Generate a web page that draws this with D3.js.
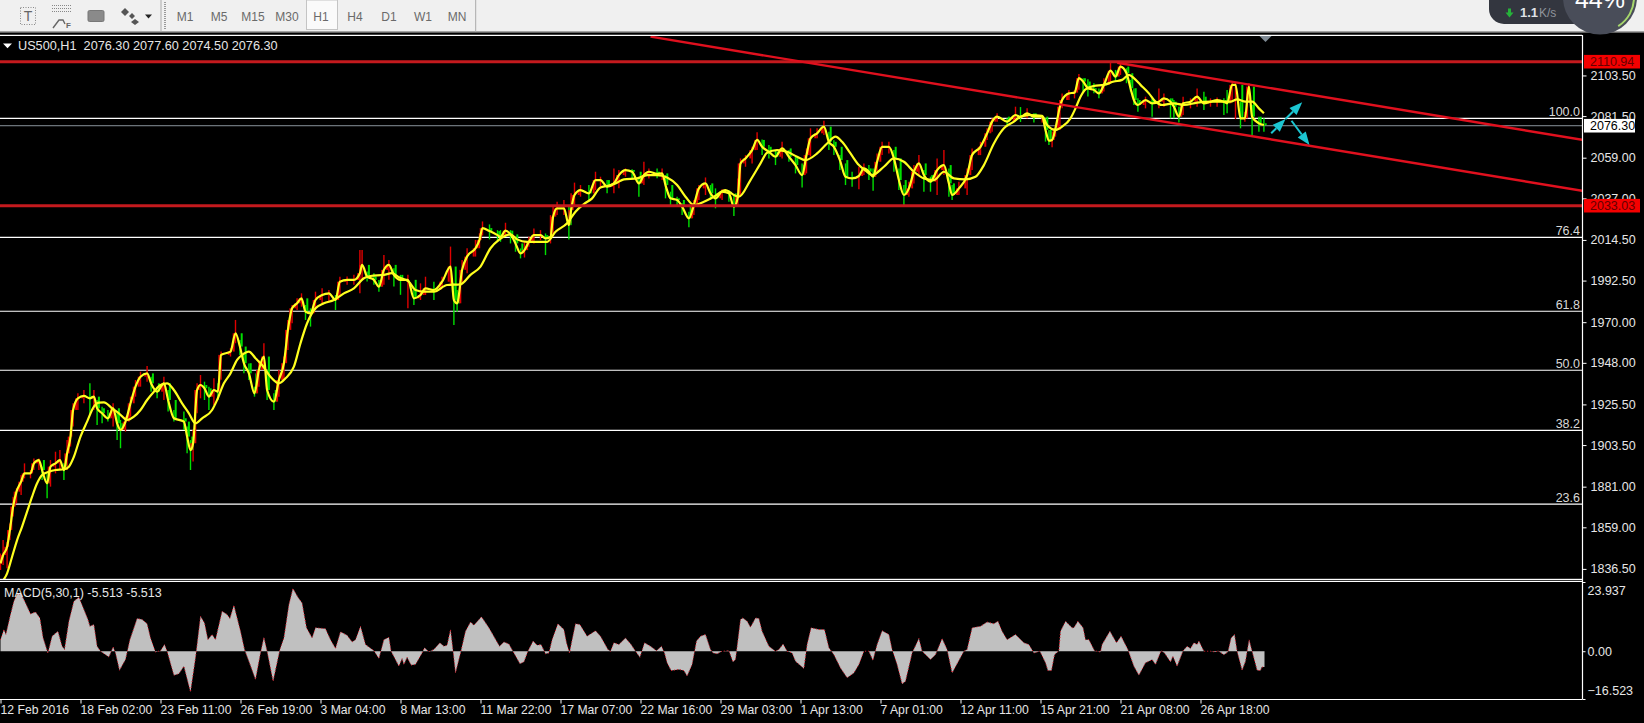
<!DOCTYPE html>
<html><head><meta charset="utf-8">
<script src="https://cdn.jsdelivr.net/npm/d3@7"></script>
<style>
html,body{margin:0;padding:0;background:#000;overflow:hidden}
svg{display:block}
text{font-family:"Liberation Sans",Arial,sans-serif}
</style></head><body><svg id="c" width="1644" height="723"></svg>
<script>
// [bar, fast MA price, wick above it, wick below it]
const fastRows=[[0,1839.5,5.4,3.6],[1.3,1844,8.1,5.4],[3.3,1848.5,2.7,11.7],[4.7,1857.5,3.6,5.4],[6.3,1870.2,5.4,5.4],[8,1878.3,1.8,6.3],[10.3,1883.7,3.6,7.2],[12,1888.2,5.4,2.7],[15,1888.2,1.8,2.7],[16.7,1893.6,2.7,3.6],[19.2,1895.4,.9,5.4],[20.8,1890,1.8,5.4],[23.3,1882.8,5.4,8.1],[25,1891.8,3.6,10.8],[27.5,1893.6,6.3,5.4],[29.7,1895.4,5.4,5.4],[31.7,1890,3.6,5.4],[33.3,1899,7.2,9],[35,1908.1,3.6,5.4],[36.3,1922.5,3.6,9],[38.7,1928.8,2.7,6.3],[41.7,1930.1,3.2,4],[44.7,1928.8,8.1,9],[46.7,1929.7,3.6,7.2],[48.3,1923.4,4.5,9],[50.8,1920.7,3.6,5.4],[53.7,1918,4.5,1.8],[56.3,1923.4,2.7,9.9],[58.3,1915.3,5.4,9],[60,1911.7,5.4,9.9],[62.5,1916.2,2.7,5.4],[65,1926.1,3.6,7.2],[67.5,1935.1,3.6,5.4],[70,1940.5,2.7,5.4],[73.3,1942.3,4,4.5],[75.3,1936.9,3.6,4.5],[78.3,1932.4,2.7,3.6],[81.7,1936.9,3.6,9],[83.8,1927.9,5.4,6.3],[86.7,1918,4.5,1.8],[91.7,1916.2,5.4,4.5],[93.3,1908.1,5.4,9],[95,1900.8,5.4,10.8],[96.3,1904.5,7.2,9.9],[98.3,1933.3,3.6,12.6],[100,1936,5.4,7.2],[102,1934.2,3.6,6.3],[104.2,1929.7,5.4,7.2],[106.7,1933.3,6.3,8.1],[108.7,1932.4,4.5,4.5],[110.3,1952.3,1.8,13.5],[115,1954.1,1.8,2.7],[117.5,1964,7.2,5.4],[119.7,1956.8,3.6,4.5],[121.7,1947.8,4.5,5.4],[124.2,1942.3,5.4,3.6],[127,1931.5,3.6,1.8],[129.2,1944.1,5.4,9],[131.7,1951.4,7.2,6.3],[133.3,1933.3,10.8,5.4],[136.7,1927,4.5,4.5],[139.2,1938.7,5.4,9],[141.7,1947.8,3.6,9],[143.7,1965.8,5.4,10.8],[145.8,1977.5,1.8,8.1],[148.3,1980.2,2.7,3.6],[150.5,1982.9,2.7,4.5],[152.5,1975.7,3.6,4.5],[155,1974.8,2.7,7.2],[157.5,1982,4.5,5.4],[160.8,1984.7,3.6,4.5],[164.2,1985.6,1.8,4.5],[167.5,1982,2.7,5.4],[169.7,1991.9,2.7,7.2],[173.3,1992.9,1.8,2.7],[176.7,1992.9,2.7,2.7],[179.7,1996.5,12.6,10.8],[180.8,2001,8.1,8.1],[183.3,1994.7,2.7,2.7],[186.7,1992.9,3.6,2.7],[189.2,1989.2,3.6,2.7],[191.7,1998.3,8.1,8.1],[194.2,2001,2.7,8.1],[196.7,1995.6,3.6,6.3],[200,1992.9,2.7,8.1],[203.7,1992.9,2.7,15.3],[206.7,1982.9,4.5,3.6],[210,1984.7,6.3,2.7],[212.5,1988.3,6.3,3.6],[216.7,1987.4,4.5,5.4],[220.8,1991.9,2.7,3.6],[225,2000.1,10.8,9.9],[226.7,1982,9,13.5],[228.3,1980.2,7.2,4.5],[230.8,1998.3,5.4,7.2],[233.3,2005.5,4.5,9],[237.5,2010,4.5,4.5],[239.5,2014.5,3.6,4.5],[241,2020.9,3.6,4],[244.5,2019.3,3.6,4.5],[248.5,2017.1,2.7,3.6],
[250,2016.2,3.6,2.7],[252.5,2019.5,4.3,2.3],[255,2017.5,2.3,4.9],[257.5,2012.6,3.6,4.5],[260,2007.2,2.7,2.7],[262,2009,4.5,4],[264.2,2013.5,2.7,2.7],[266.7,2017.1,3.6,4.5],[270,2017.1,2.7,2.7],[272.5,2015.3,2.7,9],[275,2016.2,11.7,3.6],[276.3,2027.1,5.4,10.8],[278.3,2031.6,3.6,3.6],[281.7,2031.6,4.5,3.6],[284.2,2022.5,9.9,7.7],[285.3,2030.7,9,7.2],[287,2038.8,6.7,5.4],[290,2041.5,2.7,3.6],[294.2,2039.7,4.5,3.6],[297.5,2046.9,4.5,5.4],[300,2046.9,1.8,3.6],[303.3,2043.3,3.6,3.6],[306.7,2045.1,8.1,5.4],[309.2,2049.6,2.7,7.2],[312.5,2052.3,.9,3.6],[315.8,2051.4,1.3,3.6],[319.2,2045.1,3.6,7.2],[321.7,2049.6,7.2,5.4],[324.2,2051.4,1.8,3.6],[328.3,2050.2,3,2.3],[330.8,2050.5,2.7,3.6],[332.5,2044.2,5.4,7.2],[335,2037,3.6,3.6],[338.3,2036.1,1.8,2.7],[340.8,2032.5,1.8,4.5],[344.2,2026.2,3.6,4.9],[346.7,2033.4,2.7,5.4],[349.2,2042.4,1.8,6.3],[352.5,2045.1,3.2,6.3],[355,2039.7,4.5,3.6],[357.5,2037,5.4,5.4],[360.8,2040.6,1.3,4.5],[364.2,2039.7,1.8,4.5],[366.7,2032.5,6.3,5],[368.7,2037.9,9.9,4.5],[370,2055.9,2.7,17.1],[372.5,2058.6,1.8,4.5],[375.8,2063.1,1.8,7.2],[378.3,2068.6,4.1,5.4],[380.8,2064.9,4,4.5],[384.2,2062.2,3.6,3.6],[387.5,2059.5,3.6,4.5],[390.8,2064,3.6,5.4],[394.2,2059.5,3.6,2.7],[397.5,2055,4.5,4.5],[400.8,2049.6,6.3,6.7],[403,2060.4,3.6,9.9],[405,2069.5,5.4,9.9],[408.3,2072.2,2.7,2.7],[411.7,2075.8,3.2,4.5],[414.2,2067.6,5.4,4.5],[416.7,2064.9,3.6,4.5],[419.7,2057.7,2.7,5.4],[422.5,2048.7,7.2,4.5],[425.8,2047.8,3.6,4.5],[429.2,2049.1,5,7.2],[431.7,2053.2,2.7,3.6],[434.2,2051.4,3.6,4.5],[436.3,2048.7,4.5,7.6],[438.3,2056.8,4.5,6.3],[440.8,2064.9,2.7,4.5],[444.2,2064.9,2.7,3.6],[446.7,2058.6,4.5,7.2],[449.2,2046.9,6.3,5.4],[451.7,2038.8,5.4,5.9],[454.2,2042.4,3.6,4.5],[456.7,2051.4,3.6,6.3],[459.2,2055.9,4.5,6.3],[461.7,2049.6,2.7,9],[465,2046,2.7,5.4],[468.3,2052.3,6.3,13.5],[471.7,2055,8.1,5.4],[474.2,2045.1,8.1,7.2],[475.8,2038.8,5.4,2.7],[479.2,2042.4,3.6,3.6],[483.3,2049.6,3.6,10.8],[485.8,2060.4,3.6,8.1],[490,2064.9,2.7,4.5],[493.3,2072.2,2.7,3.6],[495.8,2078.5,1.8,5.4],[498.3,2081.2,1.8,2.7],[503.3,2078.5,1.8,2.7],[507.5,2082.1,4.5,2.7],[510,2081,5.4,2.7],
[513.3,2083,2.7,2.7],[516.7,2081.2,1.8,3.2],[520.8,2081.2,.9,3.2],[522.5,2074,6.3,6.3],[524.2,2068.2,5.8,2.3],[525.8,2068.6,4.5,4],[527.5,2074.9,1.8,4.5],[529.7,2086.6,3.6,12.6],[530.8,2090.2,3.6,4.5],[534.2,2093.8,1.8,3.6],[537,2094.2,1.4,3.1],[539.2,2102,2.3,6.3],[541.3,2100.2,1.8,5.4],[543.7,2096.6,4.9,4.5],[546.7,2095.7,3.6,1.8],[549.2,2093.8,2.7,2.7],[551.7,2098.4,3.6,3.6],[555,2106.1,4.3,6.8],[557.5,2102.9,3.6,2.7],[560,2108.3,2.2,4.5],[563,2104.7,2.7,5.4],[565,2096.6,4.5,1.8],[566.7,2090.2,6.3,2.7],[568.7,2087.5,3.6,3.6],[572.5,2090.2,1.8,4.5],[575.8,2088.4,2.7,7.2],[579.2,2089.3,7.2,3.6],[581.7,2091.1,2.7,4.5],[585,2089.3,1.8,9],[586.7,2086.6,3.6,6.3],[589.2,2081.2,5.4,3.2],[591.3,2088.4,3.6,6.3],[595,2089.3,1.8,3.6],[598.3,2092,4.5,5.4],[601.7,2088.4,6.3,3.6],[605,2089.3,1.8,2.7],[608.3,2090.2,1.4,3.6],[611.7,2089.3,1.8,7.2],[613.3,2088.4,7.2,5.4],[615.8,2098.4,1.3,8.1],[617.5,2098.4,.9,18.5],[620,2080.3,9,5.4],[622.2,2080.3,3.6,1.8],[624.2,2097.5,1.8,8.1],[625.8,2081.2,6.3,9.9],[629.2,2077.6,3.6,4.5],[631.7,2076.7,3.6,3.6]];

const slowRows=[[0,1828.7],[3.3,1834.1],[5.8,1843.1],[8.3,1852.1],[10.8,1859.4],[13.3,1867.5],[15.8,1875.6],[18.3,1882.8],[20.8,1887.3],[24.2,1889.1],[27.5,1890],[31.7,1890.4],[34.2,1891.8],[36.7,1897.2],[40,1908.1],[43.3,1916.2],[46.7,1924.3],[49.2,1926.5],[51.7,1926.6],[55.8,1923.4],[59.2,1920.7],[63.3,1917.1],[66.7,1918.9],[70,1922.5],[73.3,1927.9],[76.7,1932.4],[80,1936],[83.3,1936.9],[86.7,1933.3],[90.8,1926.1],[94.2,1920.7],[97.5,1915.3],[100.8,1918],[105.8,1922.5],[108.3,1927.9],[111.7,1936.9],[115,1942.3],[118.3,1949.6],[120.8,1952.3],[124.2,1954.1],[127.5,1950.5],[130.8,1946.8],[135,1940.5],[139.2,1936.9],[142.5,1939.6],[146.7,1945.9],[150,1958.6],[153.3,1969.4],[157.5,1977.5],[161.7,1980.2],[166.7,1982],[171.7,1985.6],[176.7,1988.3],[181.7,1993.8],[185,1995],[191.7,1995.6],[195.8,1996.5],[199.2,1994.3],[204.2,1991.9],[207.5,1987.4],[211.7,1986.5],[216.7,1986.5],[223.3,1990.1],[230,1990.5],[235,1995.6],[240,2000.1],[245,2010],[249.2,2014.5],
[255,2017.5],[258.3,2014.8],[263.3,2013.5],[268.3,2013.5],[273.3,2013.5],[277.5,2018.9],[283.3,2023.5],[287.5,2029.8],[291.7,2033.9],[295.8,2037],[300,2042.9],[303.3,2043.7],[307.5,2045.1],[311.7,2047.3],[318.3,2047.8],[323.3,2049.6],[328.3,2049.6],[333.3,2048.3],[338.3,2044.2],[342.5,2037.9],[346.7,2033.4],[351.7,2035.2],[356.7,2037.9],[362.5,2041.5],[366.7,2038.8],[369.2,2037.9],[375,2046.9],[380,2055.9],[383.3,2061.7],[388.3,2063.1],[393.3,2062.2],[398.3,2059.5],[402.5,2057.7],[408.3,2061.3],[413.3,2066.7],[417.5,2070.4],[420.8,2067.6],[425,2061.3],[429.2,2055],[432.5,2052],[435.8,2049.6],[441.7,2054.1],[446.7,2058.6],[451.7,2056.8],[456.7,2051.4],[461.7,2047.8],[466.7,2046.9],[471.7,2051.4],[476.7,2047.8],[482.5,2047.3],[487.5,2048.7],[491.7,2055],[496.7,2066.7],[501.7,2074.9],[506.7,2078.5],[510,2081.2],
[515,2082.1],[520.8,2081.6],[523.3,2076.7],[527.5,2074],[530.8,2075.8],[535,2080.3],[537.5,2085.7],[540,2092],[542.5,2096],[546.7,2097.8],[551.7,2098.4],[556.7,2100.2],[560.8,2101.1],[564.2,2103.8],[566.7,2102],[570,2098.4],[574.2,2093.8],[577.5,2089.3],[580.8,2087.5],[586.7,2088.4],[591.7,2087.5],[598.3,2088.8],[605,2089.3],[610.8,2089.3],[615,2089.3],[618.3,2090.6],[622.5,2089.3],[625.8,2089.3],[629.2,2085.7],[631.7,2083]];

const macdRows=[[0,4],[1.7,7.5],[2.7,5.8],[5,12.7],[6.7,17.3],[8.3,19.8],[10.3,19.8],[12.5,16.7],[15,12.9],[17.5,13.6],[19.7,11.5],[21.3,4.6],[23.7,-.6],[25.8,5.2],[28.7,6.9],[30.8,1.7],[32,.6],[34.2,10.4],[36.7,17.3],[39.2,18.7],[41.7,14.4],[43.7,11],[44.7,8.6],[46.7,9.2],[48.3,1.7],[50,0],[54.2,-2],[56.3,1.5],[57.5,-.6],[59.5,-6.6],[62.5,-2.9],[64.7,4],[68.3,11.3],[70.8,11],[73.3,9.5],[75,4.6],[77.5,-.3],[80,.2],[82,2.3],[83.3,0],[86.7,-8.3],[89.2,-7.8],[91.7,-5.2],[95,-14.1],[97.5,-2.3],[100,12.1],[102,9.8],[103.7,4],[105.8,5.8],[107.5,4],[110.8,13.8],[113.3,12.7],[114.7,11.3],[116.7,15.9],[120,6.9],[122,.6],[124.2,-3.5],[127.5,-9.8],[130,-.6],[131.7,4.8],[133.3,0],[136.3,-10.4],[139.7,.6],[141.7,4.6],[144.2,16.1],[146.2,21.7],[148.7,18.7],[150.8,16.7],[153,8.1],[155.8,4.6],[157.5,8.1],[162.5,7.8],[165,4],[167.5,.9],[170,6.7],[173.3,5.5],[175.8,3.2],[177.5,4],[180,8.6],[182.5,2.3],[186.7,.2],[189.2,-2.5],[191.7,4],[194.2,4.8],[195.3,0],[199.2,-5.2],[200.8,-2.5],[201.7,-4.6],[203.3,-2.1],[205.3,-4.8],[207.5,-4.6],[210.8,-.6],[212,1.2],[214.2,-.2],[216.7,.6],[219.7,2.9],[221.7,1.7],[223.3,2.1],[225,7.5],[226.3,0],[227.5,-7.5],[230,-.6],[232.5,6.9],[235,10.1],[236.7,9],[240.5,11.9],[244.2,8.1],[249.5,1.7],[251.7,3.2],[254.2,2.5],[256.7,-.6],[259.7,-4.3],
[261.7,-3.7],[263.7,0],[266.3,3.5],[268.3,2.1],[270.3,2.3],[272.5,-.9],[274.2,-.6],[275.8,4],[278.7,9.5],[281.7,7.5],[283,2.9],[284.5,-.6],[285.5,2.9],[287.5,9.5],[289.7,9.2],[293.3,5.2],[297.5,7.1],[300,5.2],[303.7,.6],[305,0],[306.7,2.9],[309.2,2.3],[312.5,4.6],[315.3,2.3],[317.5,0],[319.7,-2.1],[322,2.9],[325,1.7],[328,.2],[330.5,1.7],[332,-.6],[333.3,-4],[335.3,-6.7],[339.2,-6.3],[341.7,-6.7],[343.3,-8.6],[345.8,-4.6],[348,3.5],[350,5.2],[352.5,5.8],[355,.6],[356.3,-.6],[358.3,-.9],[360.8,0],[364.2,.2],[366.2,-3.7],[367.5,-2.9],[370,11],[371.2,11.5],[373.3,10.4],[375,8.3],[377.5,11.5],[379.2,11.3],[380.8,6.9],[384.2,1.7],[387.5,0],[389.2,.6],[391.3,2.5],[393.3,0],[395.8,-.6],[397.5,-3.5],[401.7,-6],[403.3,2.3],[405.3,8.1],[409.2,7.5],[412,7.5],[414.2,1.2],[416.7,-1.2],[420,-5.8],[423.3,-9.2],[426.7,-7.5],[429.2,-4.6],[431.7,0],[434.2,0],[436.2,-3.2],[438.3,2.3],[440.8,7.1],[444.2,5.8],[445.8,.6],[448.3,-4.6],[450.8,-11.3],[452.5,-10.4],[455.8,-.6],[459.2,4.4],[460.8,0],[465,-2.9],[467.5,-1.2],[470.8,4.4],[473.3,.6],[475.8,-7.5],[481.7,0],[483.3,.6],[485.8,8.1],[490,8.6],[493.3,10.1],[496.7,9.5],[498.7,10.4],[500.8,6.9],[503.3,4],[507.5,5.8],[511.7,2.9],[514.2,2.3],[516.7,-.6],[519.7,0],
[522.5,-4],[523.7,-6.7],[525.5,-6.7],[527,-1.2],[529.2,.2],[530,6.9],[532.5,10.4],[535.8,8.1],[536.7,8.1],[538.7,10.4],[541.3,8.1],[542.5,4],[544.2,4],[547,.2],[550,-.3],[550.8,2.3],[554.7,6.9],[558,2.9],[560.3,5.2],[563.7,.6],[566.7,-5.2],[569.2,-8.3],[572.5,-4],[574.2,-3.5],[575.8,-2.9],[577.5,-4.6],[580.3,.2],[582,-.6],[585,-3.7],[586.2,-1.7],[588.3,-5.2],[591.3,.2],[593.3,1.7],[595,.9],[596.7,2.9],[598.3,2.3],[599.2,3.5],[601.7,0],[605,0],[607.5,-.3],[608.7,.2],[611.7,-1.2],[613.7,-.3],[615.3,4.6],[617,5.8],[618.3,0],[620.8,-6.6],[622.5,-3.5],[624.3,4],[625.8,0],[628.3,-6.6],[630,-6.7],[630.6,-5.5],[632,-5.5]];

const timeLabels=["12 Feb 2016","18 Feb 02:00","23 Feb 11:00","26 Feb 19:00","3 Mar 04:00","8 Mar 13:00","11 Mar 22:00","17 Mar 07:00","22 Mar 16:00","29 Mar 03:00","1 Apr 13:00","7 Apr 01:00","12 Apr 11:00","15 Apr 21:00","21 Apr 08:00","26 Apr 18:00"];
const priceTicks=[2103.5,2081.5,2059,2037,2014.5,1992.5,1970,1948,1925.5,1903.5,1881,1859,1836.5];
const macdTicks=[23.937,0,-16.523];
const fibLevels=["100.0","76.4","61.8","50.0","38.2","23.6"];
const fibPrices=[2080.3,2015.9,1975.9,1944,1911.5,1871.5];
const supportResistance=[2110.94,2033.03];
const lastPrice=2076.30;
const channelUpper=[[558.4,2110.4],[791.15,2068.6]];
const channelLower=[[325,2124.5],[791.15,2041]];
const arrowPaths=[[[635.35,2072.2],[642.5,2079.9]],[[642.5,2079.9],[650.85,2089]],[[645.5,2079],[654.5,2065.9]]];
const periodNames=["M1","M5","M15","M30","H1","H4","D1","W1","MN"];
const titleText="US500,H1  2076.30 2077.60 2074.50 2076.30";
const macdTitle="MACD(5,30,1) -5.513 -5.513";

const svg=d3.select("#c");
const W=1582,font=12.5;
const x=d3.scaleLinear().domain([0,791]).range([0.5,W+0.5]);
const y=d3.scaleLinear().domain([2110.94,1836.5]).range([61.7,568.9]);
const m=d3.scaleLinear().domain([23.937,-16.523]).range([582,699]);

svg.append("rect").attr("width",1644).attr("height",723).attr("fill","#000");

// toolbar
const tb=svg.append("g");
tb.append("rect").attr("width",1644).attr("height",31).attr("fill","#f0f0f0");
tb.append("rect").attr("y",31).attr("width",1644).attr("height",1.6).attr("fill","#a3a3a3");
tb.append("rect").attr("x",20.5).attr("y",7.5).attr("width",15).attr("height",17).attr("fill","none").attr("stroke","#8a8a8a").attr("stroke-dasharray","1 1.5");
tb.append("text").attr("x",28).attr("y",21).attr("text-anchor","middle").attr("font-size",14).attr("fill","#666").text("T");
[0,1,2].forEach(i=>tb.append("line").attr("x1",52).attr("x2",71).attr("y1",5.5+i*3).attr("y2",5.5+i*3).attr("stroke","#888").attr("stroke-dasharray","1 1"));
tb.append("path").attr("d","M53 28L59 20H63L65 24").attr("fill","none").attr("stroke","#666").attr("stroke-width",1.4);
tb.append("text").attr("x",66).attr("y",28).attr("font-size",8).attr("font-weight","bold").attr("fill","#666").text("F");
tb.append("rect").attr("x",88).attr("y",10.5).attr("width",16).attr("height",11).attr("rx",1.5).attr("fill","#8a8a8a").attr("stroke","#777");
tb.append("path").attr("d","M125 8l4 4-4 4-4-4zM132 13l3 3-3 3-3-3zM135 19l4 3-4 3-4-3z").attr("fill","#555");
tb.append("path").attr("d","M145 14.5h7l-3.5 4z").attr("fill","#222");
tb.append("line").attr("x1",161).attr("x2",161).attr("y1",0).attr("y2",32).attr("stroke","#aaa");
tb.append("line").attr("x1",165).attr("x2",165).attr("y1",2).attr("y2",30).attr("stroke","#999").attr("stroke-width",2).attr("stroke-dasharray","1 1");
tb.append("line").attr("x1",475.7).attr("x2",475.7).attr("y1",0).attr("y2",32).attr("stroke","#aaa");
tb.append("rect").attr("x",306.5).attr("y",0).attr("width",31).attr("height",29.5).attr("fill","#fafafa").attr("stroke","#c4c4c4");
const periodX=d3.scalePoint().domain(periodNames).range([185,457]);
tb.selectAll("text.p").data(periodNames).join("text").attr("class","p").attr("x",d=>periodX(d)).attr("y",20.5).attr("text-anchor","middle").attr("font-size",12).attr("fill","#6a6a6a").text(d=>d);

// clip
const defs=svg.append("defs");
defs.append("clipPath").attr("id","main").append("rect").attr("x",0).attr("y",36).attr("width",W).attr("height",543);
const plot=svg.append("g").attr("clip-path","url(#main)");

// fibonacci + last price lines
plot.selectAll("line.fib").data(fibPrices).join("line").attr("class","fib").attr("x1",0).attr("x2",W).attr("y1",d=>y(d)).attr("y2",d=>y(d)).attr("stroke","#fff").attr("stroke-width",1.2);
plot.append("line").attr("x1",0).attr("x2",W).attr("y1",y(lastPrice)).attr("y2",y(lastPrice)).attr("stroke","#8a949c").attr("stroke-width",1);

const isDown=(d,i)=>i&&d[1]<fastRows[i-1][1];
const barColor=(d,i)=>isDown(d,i)?"#00e000":"#e00000";
// wicks
plot.selectAll("line.w").data(fastRows).join("line").attr("class","w")
 .attr("x1",d=>x(d[0])).attr("x2",d=>x(d[0]))
 .attr("y1",d=>y(d[1]+d[2])).attr("y2",d=>y(d[1]-d[3]))
 .attr("stroke",barColor).attr("stroke-width",1.4);
// candle bodies: from the previous reading to this one, just beside the line
plot.selectAll("line.b").data(fastRows).join("line").attr("class","b")
 .attr("x1",(d,i)=>x(d[0])+(isDown(d,i)?1.8:-1.8)).attr("x2",(d,i)=>x(d[0])+(isDown(d,i)?1.8:-1.8))
 .attr("y1",(d,i)=>y(fastRows[Math.max(i-1,0)][1])).attr("y2",d=>y(d[1]))
 .attr("stroke",barColor).attr("stroke-width",2);

// moving averages
const line=d3.line().x(d=>x(d[0])).y(d=>y(d[1])).curve(d3.curveMonotoneX);
plot.append("path").attr("d",line(slowRows)).attr("fill","none").attr("stroke","#ffff1e").attr("stroke-width",2.2);
plot.append("path").attr("d",line(fastRows)).attr("fill","none").attr("stroke","#ffff1e").attr("stroke-width",2.2);

// horizontal S/R and channels
plot.selectAll("line.sr").data(supportResistance).join("line").attr("class","sr").attr("x1",0).attr("x2",W).attr("y1",d=>y(d)).attr("y2",d=>y(d)).attr("stroke","#c41a1e").attr("stroke-width",3);
[channelUpper,channelLower].forEach(c=>plot.append("line").attr("x1",x(c[0][0])).attr("y1",y(c[0][1])).attr("x2",x(c[1][0])).attr("y2",y(c[1][1])).attr("stroke","#e0101e").attr("stroke-width",2.4));

// arrows
arrowPaths.forEach(a=>{
 const x0=x(a[0][0]),y0=y(a[0][1]),x1=x(a[1][0]),y1=y(a[1][1]),t=Math.atan2(y1-y0,x1-x0),L=13,H=5;
 const bx=x1-L*Math.cos(t),by=y1-L*Math.sin(t);
 plot.append("line").attr("x1",x0).attr("y1",y0).attr("x2",bx).attr("y2",by).attr("stroke","#1cc6d2").attr("stroke-width",2);
 plot.append("path").attr("d",`M${x1} ${y1}L${bx+H*Math.sin(t)} ${by-H*Math.cos(t)}L${bx-H*Math.sin(t)} ${by+H*Math.cos(t)}Z`).attr("fill","#1cc6d2");
});

// fib labels
plot.selectAll("text.fl").data(fibLevels).join("text").attr("class","fl").attr("x",W-2).attr("y",(d,i)=>y(fibPrices[i])-2).attr("text-anchor","end").attr("font-size",font).attr("fill","#d8d8d8").text(d=>d);

// top marker triangle
svg.append("path").attr("d",`M${x(629.5)} 36h12l-6 6z`).attr("fill","#7f8a94");

// frame
svg.append("line").attr("x1",0).attr("x2",W).attr("y1",35.3).attr("y2",35.3).attr("stroke","#fff").attr("stroke-width",1.2);
svg.append("rect").attr("x",0).attr("y",578.8).attr("width",W).attr("height",1.2).attr("fill","#fff");
svg.append("rect").attr("x",0).attr("y",580.8).attr("width",W).attr("height",1.2).attr("fill","#fff");

// title
svg.append("path").attr("d","M3 43.5h9l-4.5 4.7z").attr("fill","#fff");
svg.append("text").attr("x",18).attr("y",50).attr("font-size",12.7).attr("fill","#e6e6e6").attr("xml:space","preserve").text(titleText);

// price axis
const ya=svg.append("g").attr("transform",`translate(${W+0.5},0)`).call(d3.axisRight(y).tickValues(priceTicks).tickSize(4).tickPadding(4).tickFormat(d3.format(".2f")));
ya.select(".domain").remove();
ya.selectAll("line").attr("stroke","#fff");
ya.selectAll("text").attr("fill","#e6e6e6").attr("font-size",font).attr("font-family",'"Liberation Sans"');
svg.append("line").attr("x1",W+0.5).attr("x2",W+0.5).attr("y1",35).attr("y2",699.5).attr("stroke","#fff").attr("stroke-width",1.2);

// price boxes
const boxes=[{p:2110.94,bg:"#f40000",fg:"#660000"},{p:2033.03,bg:"#f40000",fg:"#660000"},{p:lastPrice,bg:"#fff",fg:"#000"}];
boxes.forEach(b=>{
 svg.append("rect").attr("x",1584).attr("y",y(b.p)-6.8).attr("width",b.bg==="#fff"?51:56).attr("height",13.6).attr("fill",b.bg);
 svg.append("text").attr("x",1590).attr("y",y(b.p)+4.4).attr("font-size",font).attr("fill",b.fg).text(b.p.toFixed(2));
});

// MACD
const area=d3.area().x(d=>x(d[0])).y0(m(0)).y1(d=>m(d[1])).curve(d3.curveLinear);
svg.append("path").attr("d",area(macdRows)).attr("fill","#c0c0c0");
svg.append("path").attr("d",d3.line().x(d=>x(d[0])).y(d=>m(d[1]))(macdRows)).attr("fill","none").attr("stroke","#e01a2a").attr("stroke-width",1).attr("stroke-dasharray","1 2");
svg.append("text").attr("x",4).attr("y",596.5).attr("font-size",font).attr("fill","#e6e6e6").text(macdTitle);
const ma=svg.append("g").attr("transform",`translate(${W+0.5},0)`).call(d3.axisRight(m).tickValues(macdTicks).tickSize(3).tickPadding(2).tickFormat(d=>d===0?"0.00":d3.format(".3f")(d)));
ma.select(".domain").remove();
ma.selectAll("line").attr("stroke","#fff");
ma.selectAll("text").attr("fill","#e6e6e6").attr("font-size",font).attr("font-family",'"Liberation Sans"');
ma.selectAll(".tick").filter(d=>d===macdTicks[0]).select("text").attr("dy","1em");
ma.selectAll(".tick").filter(d=>d===macdTicks[2]).select("text").attr("dy","-0.35em");

// time axis
const ticksT=timeLabels.map((_,i)=>i*40);
const xa=svg.append("g").attr("transform","translate(0,699.5)").call(d3.axisBottom(x).tickValues(ticksT).tickSize(4).tickPadding(1).tickFormat((d,i)=>timeLabels[i]));
xa.select(".domain").attr("stroke","#fff").attr("d",`M0,0H${W}`);
xa.selectAll("line").attr("stroke","#fff");
xa.selectAll("text").attr("fill","#e6e6e6").attr("font-size",12.2).attr("font-family",'"Liberation Sans"').attr("text-anchor","start").attr("dx",-0.5).attr("y",6);

// network widget overlay
const w=svg.append("g");
w.append("path").attr("d","M1489 0V9a15 15 0 0 0 15 15H1590V0Z").attr("fill","#33363f");
w.append("path").attr("d","M1508 8.5h3v4h2.5l-4 5-4-5h2.5z").attr("fill","#26b33a");
w.append("text").attr("x",1520).attr("y",17).attr("font-size",13).attr("font-weight","bold").attr("fill","#dfe2e6").text("1.1");
w.append("text").attr("x",1539).attr("y",17).attr("font-size",12).attr("fill","#8f949c").text("K/s");
w.append("circle").attr("cx",1600).attr("cy",-2.5).attr("r",37).attr("fill","#494d59");
w.append("path").attr("d",d3.arc().innerRadius(33).outerRadius(35).startAngle(Math.PI*0.5).endAngle(Math.PI*0.82)()).attr("transform","translate(1600,-2.5)").attr("fill","#a6d66c");
w.append("text").attr("x",1600).attr("y",8).attr("text-anchor","middle").attr("font-size",25).attr("fill","#fff").text("44%");
</script></body></html>
